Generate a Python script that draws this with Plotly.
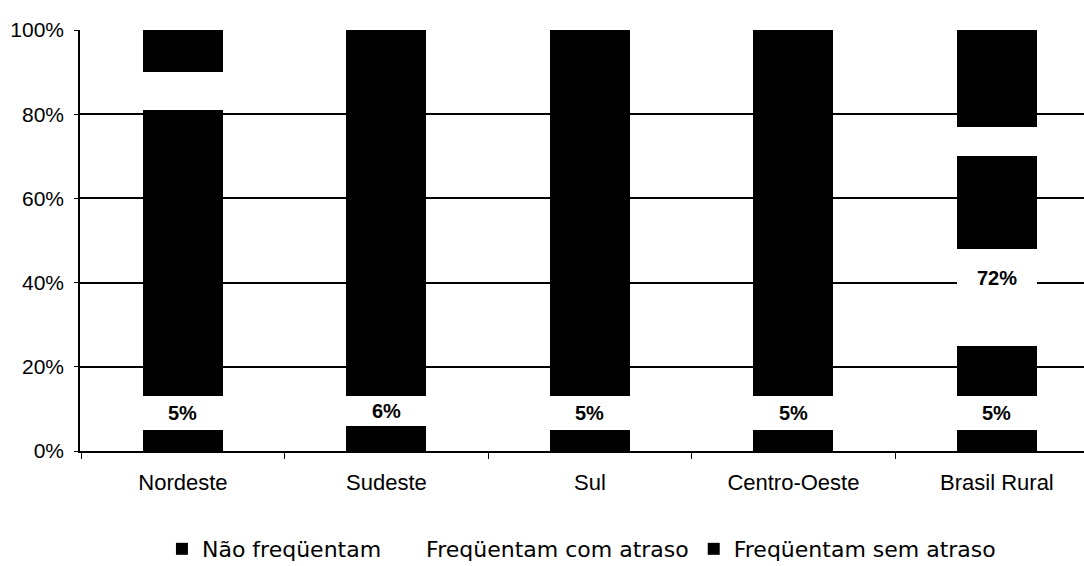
import plotly.graph_objects as go

# Regions on the x axis
regioes = ["Nordeste", "Sudeste", "Sul", "Centro-Oeste", "Brasil Rural"]

# Share of children (%) by school attendance, stacked bottom to top
nao_frequentam = [5, 6, 5, 5, 5]

# "Freqüentam com atraso" is printed as alternating light / dark bands
atraso_faixa_1 = [8, 7, 8, 8, 8]      # light
atraso_faixa_2 = [68, 0, 0, 0, 12]    # dark
atraso_faixa_3 = [9, 0, 0, 0, 23]     # light
atraso_faixa_4 = [0, 0, 0, 0, 22]     # dark
atraso_faixa_5 = [0, 0, 0, 0, 7]      # light

sem_atraso = [10, 87, 87, 87, 23]

y_ticks = [0, 20, 40, 60, 80, 100]
y_tick_labels = ["0%", "20%", "40%", "60%", "80%", "100%"]

FONT = "Arial, 'Liberation Sans', sans-serif"
FONT_LEG = "'DejaVu Sans', Arial, sans-serif"
PRETO = "#000000"
BRANCO = "#ffffff"
BAR_W = 0.393

fig = go.Figure()


def add_band(values, color, name, group, show):
    fig.add_trace(go.Bar(
        x=regioes, y=values, name=name, legendgroup=group, showlegend=show,
        marker=dict(color=color, line=dict(width=0)), width=BAR_W,
        hoverinfo="skip",
    ))


add_band(nao_frequentam, PRETO, "Não freqüentam", "nao", True)
atraso_bands = [
    (atraso_faixa_1, BRANCO), (atraso_faixa_2, PRETO), (atraso_faixa_3, BRANCO),
    (atraso_faixa_4, PRETO), (atraso_faixa_5, BRANCO),
]
for i, (vals, col) in enumerate(atraso_bands):
    add_band(vals, col, "Freqüentam com atraso", "atraso", i == 0)
add_band(sem_atraso, PRETO, "Freqüentam sem atraso", "sem", True)

label_font = dict(family=FONT, size=20, color=PRETO, weight="bold")

# Value labels: "Não freqüentam" share, set in the light band above it
annotations = []
for i, reg in enumerate(regioes):
    annotations.append(dict(
        x=reg, y=nao_frequentam[i] + atraso_faixa_1[i] / 2,
        text=f"{nao_frequentam[i]}%", showarrow=False,
        font=label_font, xref="x", yref="y",
    ))

# Brasil Rural: total "com atraso" share, centred on its span
idx = regioes.index("Brasil Rural")
atraso_total = sum(b[0][idx] for b in atraso_bands)
annotations.append(dict(
    x=regioes[idx], y=nao_frequentam[idx] + atraso_total / 2,
    text=f"{atraso_total}%", showarrow=False,
    font=label_font, xref="x", yref="y",
))

fig.update_layout(
    barmode="stack",
    width=1084, height=566,
    margin=dict(l=80, r=0, t=30, b=115, autoexpand=False),
    paper_bgcolor=BRANCO, plot_bgcolor=BRANCO,
    font=dict(family=FONT, size=20, color=PRETO),
    annotations=annotations,
    showlegend=True,
    legend=dict(
        orientation="h", traceorder="normal",
        xref="container", yref="container",
        x=0.1494, xanchor="left", y=0.0671, yanchor="top",
        font=dict(family=FONT_LEG, size=22, color=PRETO),
        bgcolor="rgba(0,0,0,0)", itemclick=False,
    ),
    xaxis=dict(
        type="category", range=[-0.506, 4.428],
        showline=True, linecolor=PRETO, linewidth=1.5,
        ticks="outside", tickson="boundaries", ticklen=6, tickcolor=PRETO,
        showgrid=False, zeroline=False,
        tickfont=dict(family=FONT, size=22, color=PRETO),
        ticklabelstandoff=11,
    ),
    yaxis=dict(
        range=[0, 100], tickvals=y_ticks, ticktext=y_tick_labels,
        showline=True, linecolor=PRETO, linewidth=1.5,
        ticks="outside", ticklen=4, tickcolor=PRETO,
        showgrid=True, gridcolor=PRETO, gridwidth=1.5,
        zeroline=False,
        tickfont=dict(family=FONT, size=21, color=PRETO),
        ticklabelstandoff=6,
    ),
)

fig.write_html("out.html")
